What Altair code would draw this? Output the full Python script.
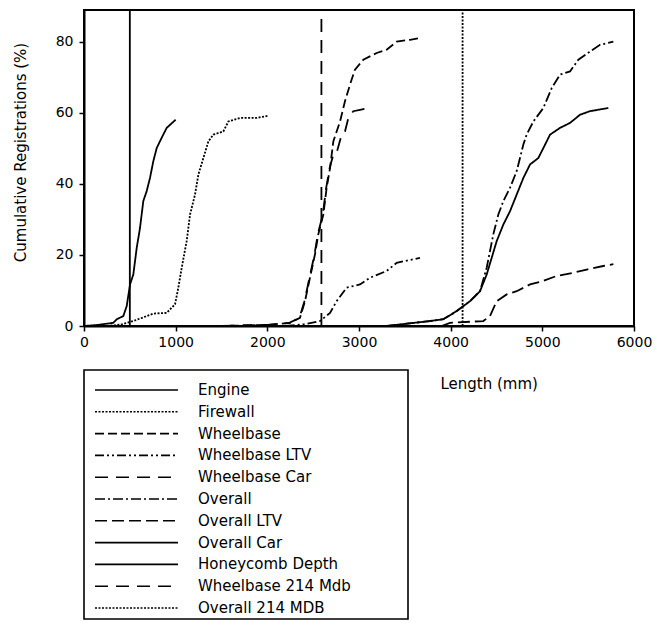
import altair as alt
import pandas as pd

series_names = ["Engine", "Firewall", "Wheelbase", "Wheelbase LTV", "Wheelbase Car",
                "Overall", "Overall LTV", "Overall Car", "Honeycomb Depth",
                "Wheelbase 214 Mdb", "Overall 214 MDB"]
dash_patterns = [[1, 0], [2, 1.5], [9, 4], [9, 3, 2, 3, 2, 3], [13, 8],
                 [10, 3, 2, 3], [12, 5], [1, 0], [1, 0], [13, 8], [2, 1.5]]

engine_x = [0, 150, 320, 357, 429, 466, 502, 538, 575, 611, 647, 684, 720, 756, 793, 847, 902, 1000]
engine_y = [0, 0.3, 0.9, 1.9, 2.8, 5.6, 11.7, 14.5, 22, 27.6, 35.2, 38, 41.7, 46.4, 50.1, 53, 55.8, 58.1]

firewall_x = [250, 400, 538, 684, 756, 902, 993, 1029, 1066, 1120, 1157, 1211, 1248, 1302, 1357, 1411, 1520, 1575, 1702, 1884, 2011]
firewall_y = [0, 0.4, 1.4, 2.8, 3.5, 3.7, 6.1, 10.8, 16.4, 23.9, 31.4, 37, 42.7, 47.3, 52, 53.9, 54.8, 57.6, 58.6, 58.6, 59.2]

wheelbase_x = [1450, 2000, 2247, 2356, 2411, 2465, 2520, 2556, 2611, 2647, 2684, 2720, 2793, 2847, 2902, 2956, 3047, 3193, 3302, 3411, 3556, 3665]
wheelbase_y = [0, 0.3, 0.9, 2.3, 7, 13.6, 20.2, 25.8, 31.4, 38.9, 44.5, 52, 57.6, 63.3, 68, 72.2, 75, 76.9, 77.8, 80.1, 80.6, 81.1]

wheelbase_car_x = [1500, 2000, 2240, 2350, 2405, 2460, 2515, 2550, 2605, 2642, 2680, 2720, 2756, 2811, 2847, 2884, 2938, 3011, 3102]
wheelbase_car_y = [0, 0.3, 0.9, 2.3, 7, 13.6, 20.2, 25.8, 31.4, 38.9, 44.5, 48.3, 48.8, 53.9, 54.8, 58.6, 60.5, 60.9, 61.4]

wheelbase_ltv_x = [2200, 2400, 2575, 2684, 2756, 2865, 3011, 3120, 3302, 3411, 3665]
wheelbase_ltv_y = [0, 0.5, 1.4, 3.7, 7, 10.8, 11.7, 13.6, 15.5, 17.8, 19.2]

overall_x = [3300, 3775, 3920, 4066, 4211, 4320, 4393, 4465, 4520, 4575, 4647, 4720, 4793, 4829, 4902, 5011, 5102, 5193, 5302, 5393, 5520, 5629, 5775]
overall_y = [0, 1.4, 1.9, 4.2, 7, 9.8, 16.4, 25.8, 31.4, 35.2, 38.9, 43.6, 51.1, 53.9, 57.6, 61.4, 67, 70.8, 71.7, 75, 77.3, 79.2, 80.1]

overall_car_x = [3300, 3775, 3920, 4066, 4211, 4320, 4393, 4502, 4575, 4647, 4720, 4793, 4866, 4956, 5011, 5084, 5193, 5302, 5411, 5520, 5720]
overall_car_y = [0, 1.4, 1.9, 4.2, 7, 9.8, 14.5, 23.9, 28.6, 32.3, 37, 41.7, 45.5, 47.3, 50.1, 53.9, 55.8, 57.2, 59.5, 60.5, 61.4]

overall_ltv_x = [3900, 3993, 4356, 4429, 4502, 4611, 4720, 4866, 5011, 5157, 5338, 5484, 5665, 5775]
overall_ltv_y = [0, 0.9, 1.4, 2.8, 7, 8.9, 9.8, 11.7, 12.7, 14.1, 15, 15.9, 16.9, 17.4]

honeycomb_x = [500, 500]
honeycomb_y = [0, 89]
wb214_x = [2590, 2590]
wb214_y = [0, 89]
ov214_x = [4130, 4130]
ov214_y = [0, 89]

x_ticks = [0, 1000, 2000, 3000, 4000, 5000, 6000]
y_ticks = [0, 20, 40, 60, 80]

all_series = {
    "Engine": (engine_x, engine_y),
    "Firewall": (firewall_x, firewall_y),
    "Wheelbase": (wheelbase_x, wheelbase_y),
    "Wheelbase LTV": (wheelbase_ltv_x, wheelbase_ltv_y),
    "Wheelbase Car": (wheelbase_car_x, wheelbase_car_y),
    "Overall": (overall_x, overall_y),
    "Overall LTV": (overall_ltv_x, overall_ltv_y),
    "Overall Car": (overall_car_x, overall_car_y),
    "Honeycomb Depth": (honeycomb_x, honeycomb_y),
    "Wheelbase 214 Mdb": (wb214_x, wb214_y),
    "Overall 214 MDB": (ov214_x, ov214_y),
}

rows = []
for name, (xs, ys) in all_series.items():
    for i, (xv, yv) in enumerate(zip(xs, ys)):
        rows.append({"series": name, "length": xv, "pct": yv, "idx": i})
df = pd.DataFrame(rows)

legend_df = pd.DataFrame({"series": series_names, "row": list(range(len(series_names)))})

FONT = "DejaVu Sans"
dash_scale = alt.Scale(domain=series_names, range=dash_patterns)

main = alt.Chart(df).mark_line(color="black", strokeWidth=1.8, clip=True).encode(
    x=alt.X("length:Q",
            scale=alt.Scale(domain=[0, 6000], nice=False, zero=False),
            axis=alt.Axis(values=x_ticks, title="Length (mm)", grid=False,
                          format="d", labelFlush=False, labelPadding=4,
                          titleX=356, titleY=57, titleAlign="left",
                          titleBaseline="middle", titleAnchor="start")),
    y=alt.Y("pct:Q",
            scale=alt.Scale(domain=[0, 89], nice=False),
            axis=alt.Axis(values=y_ticks, title="Cumulative Registrations (%)",
                          grid=False, labelPadding=6,
                          titleX=-64, titleY=142, titleAlign="center",
                          titleBaseline="middle", titleAngle=-90)),
    strokeDash=alt.StrokeDash("series:N", scale=dash_scale, legend=None),
    order="idx:Q",
).properties(width=550, height=316,
             view=alt.ViewBackground(stroke="black", strokeWidth=2))

leg_y = alt.Y("row:Q", scale=alt.Scale(domain=[-0.917, 10.505], reverse=True, nice=False, zero=False),
              axis=None)

leg_lines = alt.Chart(legend_df).mark_rule(color="black", strokeWidth=1.6).encode(
    x=alt.value(11), x2=alt.value(94), y=leg_y,
    strokeDash=alt.StrokeDash("series:N", scale=dash_scale, legend=None),
)
leg_text = alt.Chart(legend_df).mark_text(align="left", baseline="middle", font=FONT,
                                          fontSize=15, color="black").encode(
    x=alt.value(114), y=leg_y, text="series:N",
)
legend_box = alt.layer(leg_lines, leg_text).properties(
    width=324, height=249,
    view=alt.ViewBackground(stroke="black", strokeWidth=1.6))

chart = alt.vconcat(main, legend_box, spacing=44, bounds="flush").properties(
    padding={"left": 4, "top": 1, "right": 5, "bottom": 5},
).configure_axis(
    domainColor="black", domainWidth=2, tickColor="black", tickWidth=1.5,
    tickSize=5, labelFont=FONT, labelFontSize=14, labelColor="black",
    titleFont=FONT, titleFontSize=15, titleColor="black", titleFontWeight="normal",
)

chart.save("out.html", embed_options={"renderer": "svg", "actions": False})
